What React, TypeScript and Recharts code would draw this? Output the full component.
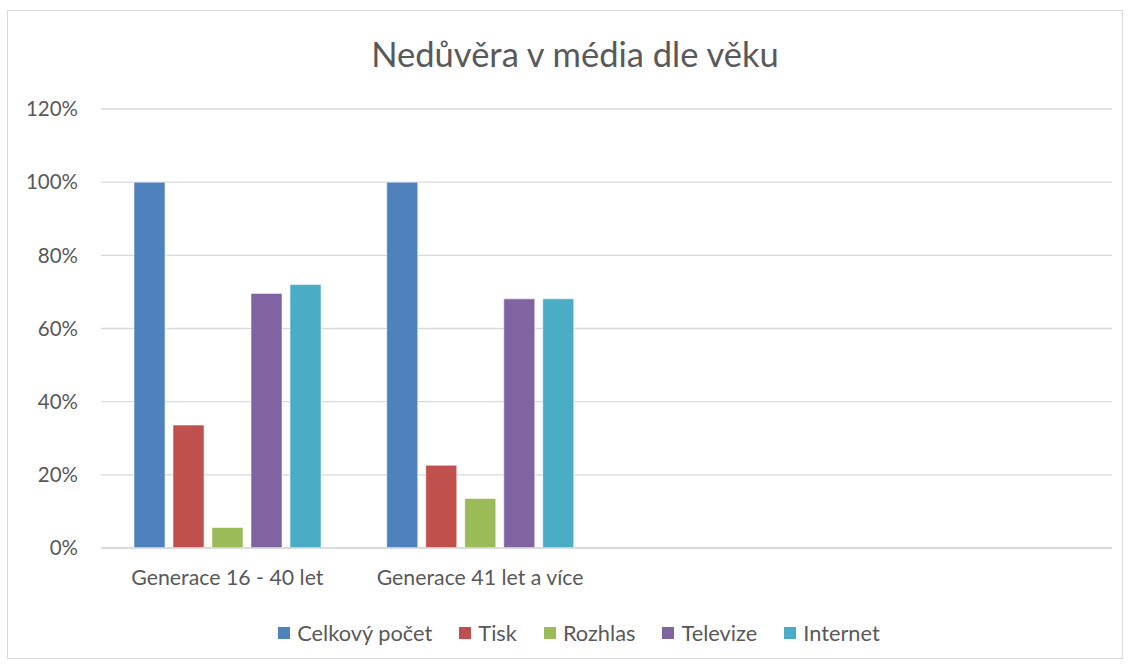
import React from "react"
import { BarChart, Bar, XAxis, YAxis, CartesianGrid, Legend } from "recharts"

const categories = ["Generace 16 - 40 let", "Generace 41 let a více", "", " "]
const celkovy = [100, 100, null, null]
const tisk = [33.6, 22.6, null, null]
const rozhlas = [5.6, 13.5, null, null]
const televize = [69.6, 68.1, null, null]
const internet = [72, 68.1, null, null]
const yTicks = [0, 20, 40, 60, 80, 100, 120]

const series = [
  { key: "celkovy", name: "Celkový počet", color: "#4F81BD" },
  { key: "tisk", name: "Tisk", color: "#C0504D" },
  { key: "rozhlas", name: "Rozhlas", color: "#9BBB59" },
  { key: "televize", name: "Televize", color: "#8064A2" },
  { key: "internet", name: "Internet", color: "#4BACC6" },
]

const data = categories.map((c, i) => ({
  label: c,
  celkovy: celkovy[i],
  tisk: tisk[i],
  rozhlas: rozhlas[i],
  televize: televize[i],
  internet: internet[i],
}))

const FONT = "Lato, Carlito, 'Open Sans', sans-serif"
const TEXT = "#595959"

function LegendContent() {
  return (
    <div style={{ display: "flex", justifyContent: "center", alignItems: "center", gap: 27, fontFamily: FONT, fontSize: 21.8, color: TEXT, lineHeight: "24px", paddingLeft: 26 }}>
      {series.map(s => (
        <span key={s.key} style={{ display: "flex", alignItems: "center", gap: 7 }}>
          <span style={{ width: 12, height: 12, background: s.color, display: "inline-block" }} />
          {s.name}
        </span>
      ))}
    </div>
  )
}

export default function App() {
  return (
    <div style={{ position: "absolute", left: 0, top: 0, width: 1130, height: 666, background: "#fff" }}>
      <div style={{ position: "absolute", left: 7, top: 10, width: 1114, height: 647, border: "1px solid #D9D9D9" }} />
      <div style={{ position: "absolute", left: 0, top: 33, width: 1150, textAlign: "center", fontFamily: FONT, fontSize: 34.5, color: TEXT, lineHeight: "42px" }}>
        Nedůvěra v média dle věku
      </div>
      <div style={{ position: "absolute", left: 0, top: 0 }}>
        <BarChart
          width={1130}
          height={666}
          data={data}
          margin={{ top: 109, right: 18, left: 20, bottom: 64 }}
          barCategoryGap={33}
          barGap={8}
        >
          <CartesianGrid vertical={false} stroke="#D9D9D9" strokeWidth={1.3} />
          <XAxis
            dataKey="label"
            axisLine={{ stroke: "#D9D9D9", strokeWidth: 1.3 }}
            tickLine={false}
            tick={{ fontSize: 21.3, fill: TEXT, fontFamily: FONT }}
            tickMargin={16}
            height={30}
            interval={0}
          />
          <YAxis
            domain={[0, 120]}
            ticks={yTicks}
            tickFormatter={(v: number) => `${v}%`}
            axisLine={false}
            tickLine={false}
            tick={{ fontSize: 20.5, fill: TEXT, fontFamily: FONT }}
            width={81}
            tickSize={0}
            tickMargin={23}
          />
          <Legend verticalAlign="bottom" wrapperStyle={{ bottom: 21 }} content={<LegendContent />} />
          {series.map(s => (
            <Bar key={s.key} dataKey={s.key} name={s.name} fill={s.color} stroke="#ffffff" strokeOpacity={0.5} isAnimationActive={false} />
          ))}
        </BarChart>
      </div>
    </div>
  )
}
